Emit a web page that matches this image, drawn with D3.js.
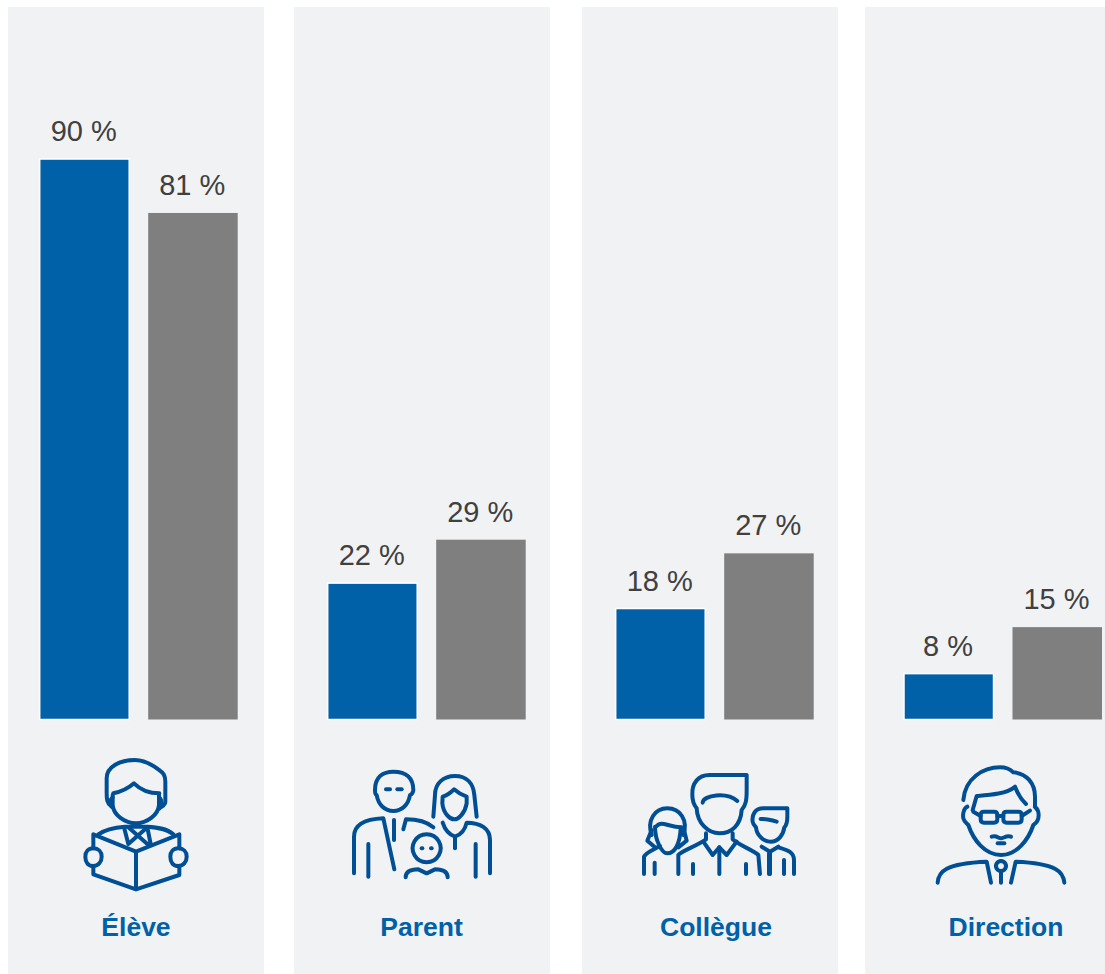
<!DOCTYPE html>
<html><head><meta charset="utf-8">
<script src="https://cdn.jsdelivr.net/npm/d3@7"></script>
<style>html,body{margin:0;padding:0;background:#fff}svg{display:block}</style>
</head><body><svg id="c" width="1105" height="974"></svg>
<script>
const categories = ["Élève","Parent","Collègue","Direction"];
const seriesA = [90.4,22.0,17.9,7.4];
const seriesB = [81.7,29.0,26.8,14.9];
const labelsA = ["90 %","22 %","18 %","8 %"];
const labelsB = ["81 %","29 %","27 %","15 %"];

// layout (not data)
const panelLeft = [8,294,582,865], panelWidth = [256,256,256,240];
const groupLeft = [39.7,327.7,615.7,904];
const labelCx = [136,421.5,716,1006];
const baseline = 719.5;
const iconOrigin = [[60,740],[60,740],[620,740],[620,740]];
const icons = [
 ["M155 200C140 190 140 175 140 160L140 115C140 80 180 60 225 60C260 60 285 80 300 92C315 100 316 115 316 125L316 185C316 195 305 200 298 205",
  "M160 160C185 155 205 145 222 130C240 148 265 160 298 160",
  "M158 165L158 195C160 225 195 250 228 250C260 250 295 225 297 195L297 165",
  "M158 172C150 177 148 192 155 200","M297 172C305 177 307 192 298 205",
  "M115 283C140 265 170 262 195 260L262 260C290 262 320 265 340 283",
  "M192 262L205 312L262 262L272 312M205 262L262 312",
  "M100 325L100 283L228 335L358 283L358 325","M100 378L100 403L228 448L358 405L358 378","M228 335L228 448",
  "M100 325C85 325 76 335 76 350C76 368 85 378 100 378C115 378 125 365 125 350C125 335 115 325 100 325Z",
  "M355 325C340 325 331 335 331 350C331 368 340 378 355 378C370 378 380 365 380 350C380 335 370 325 355 325Z"],
 ["M945 150C945 110 970 95 1000 95C1040 95 1060 115 1060 150C1060 155 1055 165 1050 165C1045 195 1025 213 1000 213C975 213 955 195 950 165C945 165 945 155 945 150Z",
  "M978 148L990 148","M1012 148L1025 148",
  "M882 400L882 290C882 255 910 238 970 235L1003 388","M1002 240L1002 300","M1030 268L1038 238C1070 238 1100 245 1120 262","M925 312L925 410",
  "M1120 230L1125 165C1125 130 1150 108 1185 108C1220 108 1240 130 1243 165L1250 230",
  "M1148 170C1165 165 1175 155 1182 148C1190 155 1205 165 1220 170L1220 190C1215 220 1195 238 1183 238C1170 238 1150 220 1147 190Z",
  "M1148 248C1155 270 1170 285 1185 290C1200 285 1215 270 1220 248C1260 248 1290 265 1290 300L1290 400","M1185 290L1185 325","M1247 312L1247 410",
  "M1100 283A42 42 0 1 1 1099.9 283Z","M1085 325L1087 325","M1113 325L1115 325",
  "M1037 412C1037 395 1050 388 1075 388L1100 400L1125 388C1150 388 1163 395 1163 412"],
 ["M380 105L268 105C235 105 215 130 217 165C217 185 222 195 230 205C232 250 265 280 298 280C335 280 362 255 365 210C378 195 380 180 380 150Z",
  "M248 188C250 165 320 155 352 183","M250 305L278 345L298 322L320 345L350 305","M298 322L298 402",
  "M175 402L175 345C180 335 230 318 258 298L258 280","M338 280L338 298C360 318 400 330 415 345L420 402","M219 372L219 402","M378 372L378 402",
  "M95 285C80 240 105 205 142 205C180 205 205 240 190 285","M110 258C125 240 145 262 185 262",
  "M105 260C105 300 125 340 142 340C165 340 180 310 182 265","M95 270L82 302L105 322","M192 270L200 302L175 322",
  "M72 402L72 350C78 338 95 332 120 318","M104 368L104 402",
  "M502 205L430 205C405 205 395 225 398 245C400 255 405 258 408 262C410 285 430 305 452 305C475 305 490 285 493 262C500 255 502 245 502 230Z",
  "M422 237C440 235 455 240 470 245","M425 320L450 335L475 320","M450 335L450 402","M475 322C500 330 522 335 522 360L522 402","M492 360L492 402","M447 402L447 340"],
 ["M1030 180C1035 115 1090 82 1140 82C1165 82 1175 92 1180 97C1220 100 1245 130 1245 170L1245 200",
  "M1058 210L1070 168C1110 165 1160 162 1185 140C1195 165 1205 180 1218 192",
  "M1042 200C1030 205 1028 225 1030 235C1032 245 1040 250 1045 255C1060 300 1095 345 1143 345C1190 345 1225 300 1240 255C1248 250 1256 240 1256 225C1256 210 1250 205 1245 200",
  "M1092 215L1122 215Q1132 215 1132 225L1132 238Q1132 248 1122 248L1092 248Q1082 248 1082 238L1082 225Q1082 215 1092 215Z",
  "M1160 215L1195 215Q1205 215 1205 225L1205 238Q1205 248 1195 248L1160 248Q1150 248 1150 238L1150 225Q1150 215 1160 215Z",
  "M1132 228L1150 228","M1060 215L1082 228","M1205 228L1230 212",
  "M1115 290C1130 285 1135 295 1143 295C1150 295 1160 285 1173 290","M1133 310L1153 310",
  "M953 428C955 395 975 370 1100 365L1113 428","M1333 428C1330 395 1310 370 1187 365L1173 428",
  "M1143 363A15 15 0 1 1 1142.9 363Z","M1143 393L1143 428"]
];

const svg = d3.select("#c");
const font = "'Liberation Sans',Arial,sans-serif";
const y = d3.scaleLinear().domain([0,100]).range([baseline, baseline-620]);
const x0 = d3.scaleOrdinal().domain(categories).range(groupLeft);
const x1 = d3.scaleBand().domain(["a","b"]).range([0,198]).paddingInner(0.175).paddingOuter(0);

svg.selectAll("rect.panel").data(categories).join("rect").attr("class","panel")
  .attr("x",(d,i)=>panelLeft[i]).attr("y",7).attr("width",(d,i)=>panelWidth[i]).attr("height",967)
  .attr("fill","#f1f2f4");

const rows = categories.map((c,i)=>[
  {c,s:"a",v:seriesA[i],l:labelsA[i]},
  {c,s:"b",v:seriesB[i],l:labelsB[i]}]).flat();

svg.selectAll("rect.bar").data(rows).join("rect").attr("class","bar")
  .attr("x",d=>x0(d.c)+x1(d.s)).attr("width",x1.bandwidth())
  .attr("y",d=>y(d.v)).attr("height",d=>baseline-y(d.v))
  .attr("fill",d=>d.s==="a"?"#0060a8":"#7f7f7f")
  .attr("stroke",d=>d.s==="a"?"#ffffff":"none").attr("stroke-width",1.5);

svg.selectAll("text.val").data(rows).join("text").attr("class","val")
  .attr("x",d=>x0(d.c)+x1(d.s)+x1.bandwidth()/2-0.7).attr("y",d=>y(d.v)-18)
  .attr("text-anchor","middle").attr("font-family",font).attr("font-size",29)
  .attr("fill","#404040").text(d=>d.l);

svg.selectAll("text.cat").data(categories).join("text").attr("class","cat")
  .attr("x",(d,i)=>labelCx[i]).attr("y",936)
  .attr("text-anchor","middle").attr("font-family",font).attr("font-weight",700).attr("font-size",26.5)
  .attr("fill","#0060a8").text(d=>d);

const ig = svg.selectAll("g.icon").data(icons).join("g").attr("class","icon")
  .attr("transform",(d,i)=>`translate(${iconOrigin[i][0]},${iconOrigin[i][1]}) scale(${1/3})`)
  .attr("fill","none").attr("stroke","#004f95").attr("stroke-width",12)
  .attr("stroke-linecap","round").attr("stroke-linejoin","round");
ig.selectAll("path").data(d=>d).join("path").attr("d",d=>d);
</script></body></html>
